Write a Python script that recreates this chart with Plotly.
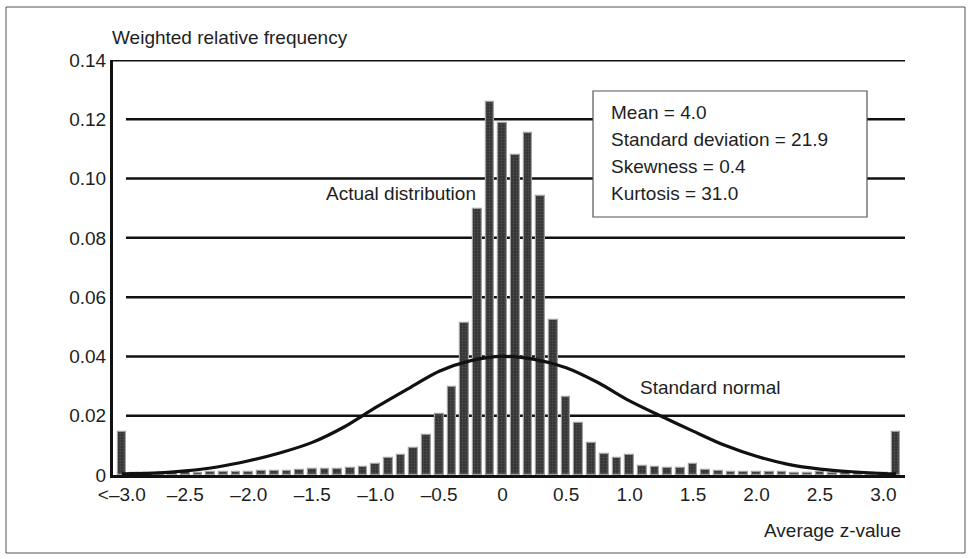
import plotly.graph_objects as go

# ---- data ----
bin_centres = [round(-3.0 + 0.1 * i, 1) for i in range(62)]  # -3.0 ... 3.1 (outer bars are the tails)
freq = [
    0.0144, 0.0008, 0.0008, 0.0008, 0.0009, 0.0010, 0.0008, 0.0009, 0.0010, 0.0010,  # -3.0 .. -2.1
    0.0011, 0.0012, 0.0012, 0.0013, 0.0018, 0.0020, 0.0020, 0.0021, 0.0024, 0.0027,  # -2.0 .. -1.1
    0.0037, 0.0057, 0.0069, 0.0091, 0.0134, 0.0207, 0.0297, 0.0514, 0.0898, 0.1260,  # -1.0 .. -0.1
    0.1187, 0.1078, 0.1153, 0.0942, 0.0522, 0.0264, 0.0175, 0.0109, 0.0071, 0.0056,  # 0.0 .. 0.9
    0.0066, 0.0030, 0.0027, 0.0025, 0.0024, 0.0036, 0.0016, 0.0012, 0.0010, 0.0010,  # 1.0 .. 1.9
    0.0009, 0.0011, 0.0009, 0.0008, 0.0008, 0.0009, 0.0007, 0.0007, 0.0007, 0.0006,  # 2.0 .. 2.9
    0.0006, 0.0144,                                                                  # 3.0, tail
]

normal_x = [-3.0, -2.75, -2.5, -2.25, -2.0, -1.75, -1.5, -1.25, -1.0, -0.75, -0.5, -0.25,
            0.0, 0.25, 0.5, 0.75, 1.0, 1.25, 1.5, 1.75, 2.0, 2.25, 2.5, 2.75, 3.0, 3.1]
normal_y = [0.0004, 0.0006, 0.0014, 0.0027, 0.0048, 0.0075, 0.0110, 0.0162, 0.0228, 0.0290,
            0.0350, 0.0386, 0.0400, 0.0390, 0.0362, 0.0312, 0.0250, 0.0198, 0.0148, 0.0100,
            0.0063, 0.0036, 0.0020, 0.0011, 0.0005, 0.0004]

x_tick_vals = [-3.0, -2.5, -2.0, -1.5, -1.0, -0.5, 0.0, 0.5, 1.0, 1.5, 2.0, 2.5, 3.0]
x_tick_text = ["<\u20133.0", "\u20132.5", "\u20132.0", "\u20131.5", "\u20131.0", "\u20130.5",
               "0", "0.5", "1.0", "1.5", "2.0", "2.5", "3.0"]
y_tick_vals = [0, 0.02, 0.04, 0.06, 0.08, 0.10, 0.12, 0.14]
y_tick_text = ["0", "0.02", "0.04", "0.06", "0.08", "0.10", "0.12", "0.14"]
grid_vals = [0.02, 0.04, 0.06, 0.08, 0.10, 0.12]

stats_lines = ["Mean = 4.0", "Standard deviation = 21.9", "Skewness = 0.4", "Kurtosis = 31.0"]

# ---- layout geometry (pixels) ----
W, H = 972, 559
PL, PR, PT, PB = 113, 905, 60, 475
FONT = "Liberation Sans, Arial, sans-serif"
FS = 19
TXT = "#1e1e1e"


def px(x):
    return (x - PL) / (PR - PL)


def py(y):
    return (PB - y) / (PB - PT)


fig = go.Figure()
fig.add_trace(go.Bar(
    x=bin_centres, y=freq, width=0.068,
    marker=dict(color="#3a3a3a", line=dict(color="#a0a0a0", width=1.2),
                pattern=dict(shape=".", fgcolor="#6a6a6a", bgcolor="#333333",
                             size=3, solidity=0.35, fillmode="overlay")),
    showlegend=False, hoverinfo="skip",
))
fig.add_trace(go.Scatter(
    x=normal_x, y=normal_y, mode="lines",
    line=dict(color="#111111", width=3.2, shape="spline", smoothing=0.8),
    showlegend=False, hoverinfo="skip",
))

annotations = [
    dict(text="Weighted relative frequency", x=px(110), y=py(38), xanchor="left", yanchor="middle"),
    dict(text="Actual distribution", x=px(478), y=py(193), xanchor="right", yanchor="middle"),
    dict(text="Standard normal", x=px(710), y=py(387), xanchor="center", yanchor="middle"),
    dict(text="Average z-value", x=px(903), y=py(530), xanchor="right", yanchor="middle"),
]
for i, line in enumerate(stats_lines):
    annotations.append(dict(text=line, x=px(609), y=py(113 + 26.7 * i), xanchor="left", yanchor="middle"))
for a in annotations:
    a.update(xref="paper", yref="paper", showarrow=False, font=dict(family=FONT, size=FS, color=TXT))

shapes = [
    # outer frame
    dict(type="rect", xref="paper", yref="paper", x0=px(6), x1=px(965), y0=py(553), y1=py(7),
         line=dict(color="#555555", width=1)),
    # top line at 0.14
    dict(type="line", xref="paper", yref="y", x0=0, x1=1, y0=0.14, y1=0.14,
         line=dict(color="#111111", width=3)),
]
# horizontal grid lines, starting a little right of the axis, under the bars
for g in grid_vals:
    shapes.append(dict(type="line", xref="paper", yref="y", x0=px(126), x1=1, y0=g, y1=g,
                       line=dict(color="#111111", width=2.5), layer="below"))
# statistics box
shapes.append(dict(type="rect", xref="paper", yref="paper", x0=px(593), x1=px(867), y0=py(217), y1=py(91),
                   line=dict(color="#555555", width=1.2), fillcolor="white", layer="above"))

fig.update_layout(
    width=W, height=H,
    margin=dict(l=PL, r=W - PR, t=PT, b=H - PB),
    paper_bgcolor="white", plot_bgcolor="white",
    font=dict(family=FONT, size=FS, color=TXT),
    bargap=0,
    annotations=annotations,
    shapes=shapes,
    xaxis=dict(range=[-3.07, 3.17], tickvals=x_tick_vals, ticktext=x_tick_text,
               showgrid=False, zeroline=False, showline=True, linecolor="#111111", linewidth=3,
               ticks="", tickfont=dict(family=FONT, size=FS, color=TXT), fixedrange=True),
    yaxis=dict(range=[0, 0.14], tickvals=y_tick_vals, ticktext=y_tick_text,
               showgrid=False, zeroline=False,
               showline=True, linecolor="#111111", linewidth=3, ticks="",
               tickfont=dict(family=FONT, size=FS, color=TXT), fixedrange=True),
)

fig.write_html("out.html")
